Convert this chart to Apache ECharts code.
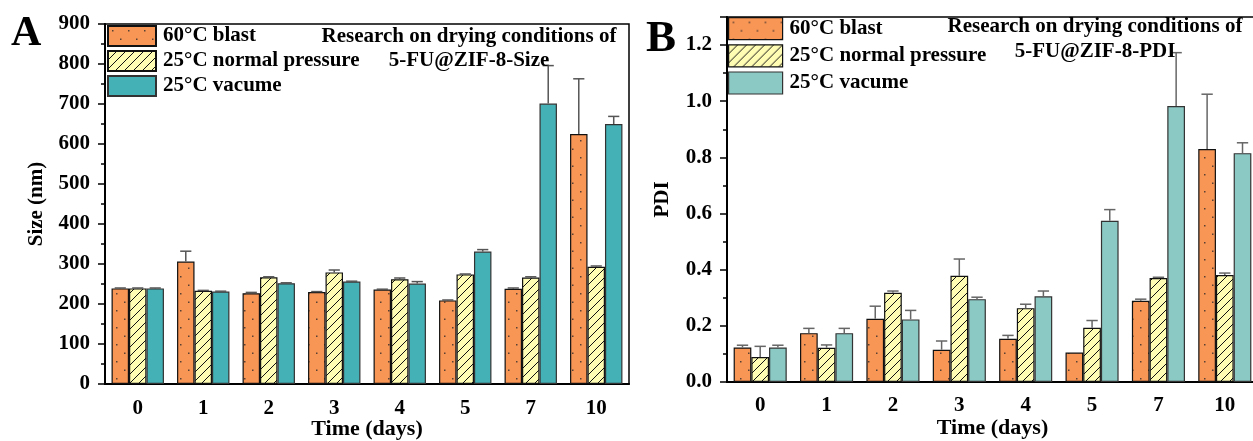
<!DOCTYPE html>
<html>
<head>
<meta charset="utf-8">
<script src="https://cdn.jsdelivr.net/npm/echarts@6/dist/echarts.min.js"></script>
<style>
  html, body { margin: 0; padding: 0; background: #fff; width: 100%; height: 100%; overflow: hidden; }
  #chart { width: 1253px; height: 441px; }
</style>
</head>
<body>
<div id="chart"></div>
<script>
// categories (days)
var days = ["0", "1", "2", "3", "4", "5", "7", "10"];
var seriesNames = ["60°C blast", "25°C normal pressure", "25°C vacume"];

// panel A: size (nm)
var sizeBlast = [239, 306, 227, 230, 236, 209, 238, 625];
var sizeBlastErr = [1, 26, 2, 1, 1, 1, 2, 138];
var sizeNormal = [239, 233, 267, 279, 262, 274, 266, 293];
var sizeNormalErr = [1, 1, 1, 6, 3, 1, 2, 2];
var sizeVac = [239, 231, 252, 256, 251, 331, 701, 650];
var sizeVacErr = [1, 1, 1, 1, 5, 5, 95, 19];

// panel B: PDI
var pdiBlast = [0.123, 0.174, 0.225, 0.115, 0.154, 0.105, 0.289, 0.83];
var pdiBlastErr = [0.008, 0.017, 0.045, 0.031, 0.012, 0, 0.006, 0.195];
var pdiNormal = [0.089, 0.122, 0.318, 0.378, 0.263, 0.193, 0.37, 0.381];
var pdiNormalErr = [0.038, 0.01, 0.006, 0.06, 0.014, 0.026, 0.003, 0.007];
var pdiVac = [0.123, 0.174, 0.223, 0.295, 0.305, 0.574, 0.983, 0.815];
var pdiVacErr = [0.008, 0.017, 0.032, 0.007, 0.019, 0.04, 0.19, 0.037];

var FONT = "'Liberation Serif', 'Times New Roman', serif";
var ORANGE = "#f89656";
var YELLOW = "#fffcb4";
var TEAL_A = "#43b1b6";
var TEAL_B = "#8ac9c4";

// orange fill with sparse staggered dots
function dotPattern() {
  var c = document.createElement("canvas");
  c.width = 16;
  c.height = 17;
  var ctx = c.getContext("2d");
  ctx.fillStyle = ORANGE;
  ctx.fillRect(0, 0, 16, 17);
  ctx.fillStyle = "#5a4030";
  ctx.fillRect(4, 4, 1.5, 1.5);
  ctx.fillRect(12, 12.5, 1.5, 1.5);
  return { image: c, repeat: "repeat" };
}

// light yellow fill with "/" hatching
function hatchPattern() {
  var s = 9;
  var c = document.createElement("canvas");
  c.width = s;
  c.height = s;
  var ctx = c.getContext("2d");
  ctx.fillStyle = YELLOW;
  ctx.fillRect(0, 0, s, s);
  ctx.strokeStyle = "#111";
  ctx.lineWidth = 1;
  ctx.beginPath();
  ctx.moveTo(0, s);
  ctx.lineTo(s, 0);
  ctx.moveTo(-1, 1);
  ctx.lineTo(1, -1);
  ctx.moveTo(s - 1, s + 1);
  ctx.lineTo(s + 1, s - 1);
  ctx.stroke();
  return { image: c, repeat: "repeat" };
}

var styles = [
  { color: dotPattern(), borderColor: "#111", borderWidth: 1.2 },
  { color: hatchPattern(), borderColor: "#111", borderWidth: 1.2 },
  { color: TEAL_A, borderColor: "#333", borderWidth: 1.2 },
];
var stylesB = [styles[0], styles[1], { color: TEAL_B, borderColor: "#333", borderWidth: 1.2 }];

// upper error bar with cap, shifted to the bar's slot in the group
function errRender(slot, color) {
  return function (params, api) {
    var x = api.value(0);
    var v = api.value(1);
    var e = api.value(2);
    if (!e) return null;
    var base = api.coord([x, v]);
    var top = api.coord([x, v + e]);
    var band = api.size([1, 0])[0];
    var bw = (band * 0.8) / 3;
    var cx = base[0] + (slot - 1) * bw;
    var half = bw * 0.32;
    var st = { stroke: color, lineWidth: 1.5 };
    return {
      type: "group",
      children: [
        { type: "line", shape: { x1: cx, y1: base[1], x2: cx, y2: top[1] }, style: st },
        { type: "line", shape: { x1: cx - half, y1: top[1], x2: cx + half, y2: top[1] }, style: st },
      ],
    };
  };
}

function errData(vals, errs) {
  return vals.map(function (v, i) {
    return [i, v, errs[i]];
  });
}

var labelStyle = { fontFamily: FONT, fontWeight: "bold", fontSize: 21, color: "#000" };
var nameStyle = { fontFamily: FONT, fontWeight: "bold", fontSize: 21, color: "#000" };

function mainX(grid, margin, gap) {
  return {
    type: "category",
    gridIndex: grid,
    data: days,
    name: "Time (days)",
    nameLocation: "middle",
    nameGap: gap,
    nameMoveOverlap: false,
    nameTextStyle: { fontFamily: FONT, fontWeight: "bold", fontSize: 22, color: "#000" },
    axisLine: { lineStyle: { color: "#000", width: 2 } },
    axisTick: { alignWithLabel: true, length: 6, lineStyle: { color: "#000", width: 2 } },
    axisLabel: Object.assign({ margin: margin }, labelStyle),
  };
}
function tickX(grid) {
  return {
    type: "category",
    gridIndex: grid,
    data: days,
    axisLine: { show: false },
    axisTick: { length: 4, lineStyle: { color: "#000", width: 1.5 } },
    axisLabel: { show: false },
  };
}
function hiddenY(grid) {
  return { type: "value", gridIndex: grid, show: false };
}

var bars = [
  [sizeBlast, sizeBlastErr],
  [sizeNormal, sizeNormalErr],
  [sizeVac, sizeVacErr],
];
var barsB = [
  [pdiBlast, pdiBlastErr],
  [pdiNormal, pdiNormalErr],
  [pdiVac, pdiVacErr],
];

var series = [];
bars.forEach(function (b, i) {
  series.push({
    name: seriesNames[i],
    type: "bar",
    xAxisIndex: 0,
    yAxisIndex: 0,
    data: b[0],
    barGap: "0%",
    barCategoryGap: "20%",
    itemStyle: styles[i],
  });
});
barsB.forEach(function (b, i) {
  series.push({
    name: seriesNames[i],
    type: "bar",
    xAxisIndex: 2,
    yAxisIndex: 2,
    data: b[0],
    barGap: "0%",
    barCategoryGap: "20%",
    itemStyle: stylesB[i],
  });
});
bars.forEach(function (b, i) {
  series.push({
    type: "custom",
    xAxisIndex: 0,
    yAxisIndex: 0,
    z: 3,
    renderItem: errRender(i, "#555"),
    data: errData(b[0], b[1]),
  });
});
barsB.forEach(function (b, i) {
  series.push({
    type: "custom",
    xAxisIndex: 2,
    yAxisIndex: 2,
    z: 3,
    renderItem: errRender(i, "#666"),
    data: errData(b[0], b[1]),
  });
});

var legendText = { fontFamily: FONT, fontWeight: "bold", fontSize: 21, color: "#000", padding: [0, 0, 0, 2] };

// grids keep their exact box (v6 would otherwise shrink them to fit labels)
function gridBox(left, top, width, height, framed) {
  var g = { left: left, top: top, width: width, height: height, outerBoundsMode: "none", containLabel: false };
  if (framed) {
    g.show = true;
    g.borderColor = "#000";
    g.borderWidth = 1.5;
    g.backgroundColor = "transparent";
  }
  return g;
}

var myChart = echarts.init(document.getElementById("chart"));
var option = {
  animation: false,
  backgroundColor: "#fff",
  title: [
    {
      text: "Research on drying conditions of\n5-FU@ZIF-8-Size",
      left: 469,
      top: 25,
      textAlign: "center",
      padding: 0,
      textStyle: { fontFamily: FONT, fontWeight: "bold", fontSize: 21, lineHeight: 24, color: "#000" },
    },
    {
      text: "Research on drying conditions of\n5-FU@ZIF-8-PDI",
      left: 1095,
      top: 14,
      textAlign: "center",
      padding: 0,
      textStyle: { fontFamily: FONT, fontWeight: "bold", fontSize: 21, lineHeight: 25, color: "#000" },
    },
  ],
  legend: [
    {
      orient: "vertical",
      left: 107,
      top: 25,
      padding: 0,
      itemWidth: 48,
      itemHeight: 20,
      itemGap: 3,
      icon: "rect",
      selectedMode: false,
      textStyle: Object.assign({ lineHeight: 20 }, legendText),
      data: seriesNames,
    },
    {
      orient: "vertical",
      left: 728,
      top: 17,
      padding: 0,
      itemWidth: 54,
      itemHeight: 22,
      itemGap: 4,
      icon: "rect",
      selectedMode: false,
      textStyle: Object.assign({ lineHeight: 22 }, legendText),
      data: [
        { name: seriesNames[0], itemStyle: stylesB[0] },
        { name: seriesNames[1], itemStyle: stylesB[1] },
        { name: seriesNames[2], itemStyle: stylesB[2] },
      ],
    },
  ],
  grid: [
    gridBox(105, 24, 524, 360, true),
    gridBox(105, 24, 524, 360, false),
    gridBox(727, 17, 531, 365, true),
    gridBox(727, 17, 531, 365, false),
  ],
  xAxis: [mainX(0, 14, 34), tickX(1), mainX(2, 13, 35), tickX(3)],
  yAxis: [
    {
      type: "value",
      gridIndex: 0,
      min: 0,
      max: 900,
      interval: 100,
      name: "Size (nm)",
      nameLocation: "middle",
      nameGap: 58,
      nameMoveOverlap: false,
      nameTextStyle: nameStyle,
      axisLine: { show: true, lineStyle: { color: "#000", width: 2 } },
      axisTick: { show: true, length: 7, lineStyle: { color: "#000", width: 1.5 } },
      minorTick: { show: true, splitNumber: 2, length: 4, lineStyle: { color: "#000", width: 1.5 } },
      splitLine: { show: false },
      axisLabel: Object.assign({ margin: 15 }, labelStyle),
    },
    hiddenY(1),
    {
      type: "value",
      gridIndex: 2,
      min: 0,
      max: 1.3,
      interval: 0.2,
      name: "PDI",
      nameLocation: "middle",
      nameGap: 54,
      nameMoveOverlap: false,
      nameTextStyle: nameStyle,
      axisLine: { show: true, lineStyle: { color: "#000", width: 2 } },
      axisTick: { show: true, length: 7, lineStyle: { color: "#000", width: 1.5 } },
      minorTick: { show: true, splitNumber: 2, length: 4, lineStyle: { color: "#000", width: 1.5 } },
      splitLine: { show: false },
      axisLabel: Object.assign(
        {
          margin: 15,
          showMaxLabel: false,
          formatter: function (v) {
            return v.toFixed(1);
          },
        },
        labelStyle
      ),
    },
    hiddenY(3),
  ],
  graphic: [
    { type: "text", left: 11, top: 13, style: { text: "A", font: "bold 42px " + FONT, fill: "#000" } },
    { type: "text", left: 646, top: 17, style: { text: "B", font: "bold 45px " + FONT, fill: "#000" } },
  ],
  series: series,
};
myChart.setOption(option);
</script>
</body>
</html>
